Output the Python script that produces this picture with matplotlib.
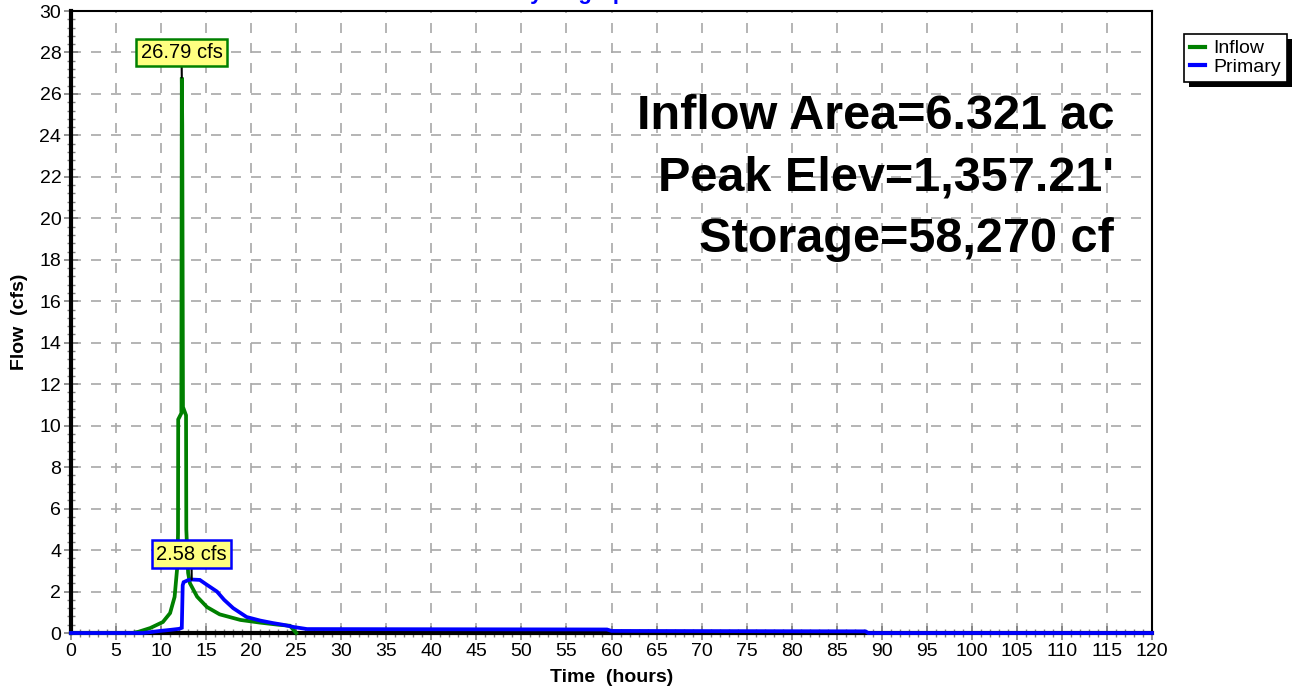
import numpy as np
import matplotlib
matplotlib.use("Agg")
import matplotlib.pyplot as plt
from matplotlib.patches import Rectangle
from matplotlib.ticker import MultipleLocator

plt.rcParams['font.family'] = ['Liberation Sans', 'DejaVu Sans']

# Inflow hydrograph (hours, cfs)
inflow_t = [0, 6.8, 7.5, 8.8, 10.2, 11.0, 11.5, 11.8, 11.88, 11.9, 12.25, 12.3,
            12.35, 12.43, 12.77, 12.8, 13.0, 13.2, 14.0, 15.1, 16.5, 18.8, 21.0,
            23.0, 24.3, 25.0]
inflow_q = [0, 0, 0.06, 0.24, 0.53, 0.96, 1.74, 3.2, 4.8, 10.3, 10.6, 26.79,
            24.5, 10.9, 10.5, 5.0, 2.9, 2.4, 1.75, 1.25, 0.9, 0.63, 0.5,
            0.4, 0.35, 0]

# Primary outflow hydrograph
primary_t = [0, 8.0, 9.9, 11.0, 12.0, 12.3, 12.4, 12.5, 13.0, 13.4, 14.3, 15.0,
             16.2, 17.0, 18.0, 19.5, 21.0, 22.4, 23.5, 24.7, 26.2, 59.5, 60.0,
             88.2, 88.5, 120]
primary_q = [0, 0, 0.1, 0.15, 0.2, 0.25, 2.3, 2.45, 2.55, 2.58, 2.56, 2.35,
             2.0, 1.6, 1.2, 0.77, 0.6, 0.48, 0.4, 0.29, 0.19, 0.17, 0.1,
             0.08, 0, 0]

inflow_peak = (12.3, 26.79)
primary_peak = (13.4, 2.58)

info_lines = ["Inflow Area=6.321 ac", "Peak Elev=1,357.21'", "Storage=58,270 cf"]

W, H = 1294, 690
fig = plt.figure(figsize=(W / 100, H / 100), dpi=100)
ax = fig.add_axes([71 / W, 57 / H, (1152 - 71) / W, (633 - 11) / H])

ax.plot(inflow_t, inflow_q, color='#008000', lw=2.7, zorder=3, clip_on=False,
        label='Inflow', solid_joinstyle='miter')
ax.plot(primary_t, primary_q, color='#0000FF', lw=2.7, zorder=4, clip_on=False,
        label='Primary', solid_joinstyle='miter')

ax.set_xlim(0, 120)
ax.set_ylim(0, 30)
ax.xaxis.set_major_locator(MultipleLocator(5))
ax.xaxis.set_minor_locator(MultipleLocator(1))
ax.yaxis.set_major_locator(MultipleLocator(2))
ax.yaxis.set_minor_locator(MultipleLocator(0.4))
ax.tick_params(which='major', direction='inout', length=10, width=1.2,
               color='#808080', labelsize=14, pad=2)
ax.tick_params(which='minor', direction='inout', length=6, width=1.0,
               color='#808080')
ax.grid(True, which='major', color='#A8A8A8', ls=(0, (6, 6)), lw=1.2)

for side in ['left', 'bottom']:
    ax.spines[side].set_linewidth(3)
for side in ['top', 'right']:
    ax.spines[side].set_linewidth(1.5)

ax.set_xlabel('Time  (hours)', fontsize=14, fontweight='bold', labelpad=7)
ax.set_ylabel('Flow  (cfs)', fontsize=14, fontweight='bold', labelpad=8)

# peak labels
ax.annotate('26.79 cfs', xy=inflow_peak, xytext=(12.27, 28.0), fontsize=14.5,
            ha='center', va='center', zorder=6,
            bbox=dict(boxstyle='square,pad=0.22', fc='#FFFF80', ec='#008000', lw=1.8),
            arrowprops=dict(arrowstyle='-', color='black', lw=1.5, shrinkA=0, shrinkB=0))
ax.annotate('2.58 cfs', xy=primary_peak, xytext=(13.37, 3.8), fontsize=14.5,
            ha='center', va='center', zorder=6,
            bbox=dict(boxstyle='square,pad=0.22', fc='#FFFF80', ec='#0000FF', lw=1.8),
            arrowprops=dict(arrowstyle='-', color='black', lw=1.5, shrinkA=0, shrinkB=0))

for i, line in enumerate(info_lines):
    ax.text(0.965, 0.830 - 0.099 * i, line, transform=ax.transAxes, ha='right',
            va='center', fontsize=35, fontweight='bold', zorder=5)

fig.text(577 / W, 1.002, 'Hydrograph', ha='center', va='baseline', fontsize=16,
         fontweight='bold', color='#0000FF')

leg = ax.legend(loc='upper left', bbox_to_anchor=(1184 / W, 1 - 34 / H),
                bbox_transform=fig.transFigure, fontsize=14, frameon=True,
                fancybox=False, edgecolor='black', framealpha=1,
                handlelength=0.8, handletextpad=0.4, borderpad=0.3,
                labelspacing=0.05, borderaxespad=0)
leg.get_frame().set_linewidth(1.2)
for h in leg.legend_handles:
    h.set_linewidth(3)

fig.canvas.draw()
bb = leg.get_window_extent()
shadow = Rectangle((bb.x0 + 5, bb.y0 - 5), bb.width, bb.height,
                   transform=None, fc='black', ec='none', zorder=-1)
fig.patches.append(shadow)

fig.savefig('out.png', dpi=100)
